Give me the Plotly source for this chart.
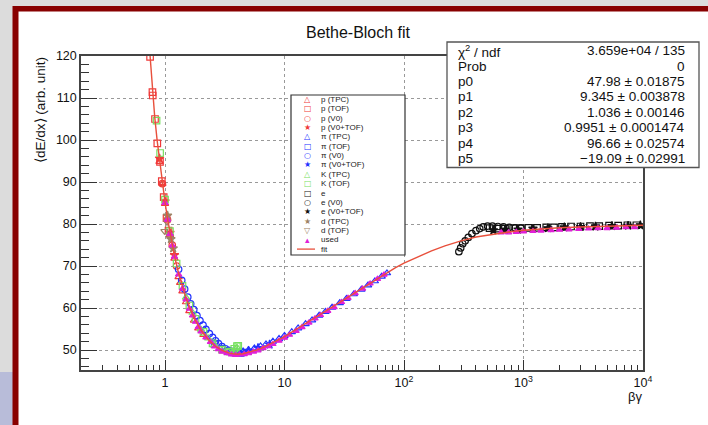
import plotly.graph_objects as go

# ---------------------------------------------------------------- data
# Bethe-Bloch fit curve, sampled along beta*gamma
fit_bg = [0.75, 0.78, 0.82, 0.86, 0.90, 0.95, 1.0, 1.05, 1.1, 1.2, 1.3, 1.4, 1.5, 1.6,
          1.8, 2.0, 2.3, 2.6, 3.0, 3.5, 4.0, 4.5, 5.0, 6.0, 7.0, 8.0, 10, 13, 16, 20,
          25, 30, 40, 50, 60, 70, 85, 100, 130, 170, 220, 300, 400, 550, 750, 1000,
          1500, 2000, 3000, 5000, 10000]
fit_val = [120.0, 112.5, 105.5, 99.8, 95.0, 89.8, 85.2, 81.2, 77.8, 72.4, 68.2, 64.9,
           62.3, 60.2, 57.0, 54.7, 52.5, 51.0, 49.9, 49.2, 49.0, 49.1, 49.4, 50.1,
           50.9, 51.7, 53.2, 55.2, 56.8, 58.5, 60.3, 61.7, 63.9, 65.6, 67.0, 68.2,
           69.6, 70.7, 72.2, 73.6, 74.8, 76.0, 76.9, 77.6, 78.1, 78.5, 78.9, 79.1,
           79.3, 79.5, 79.7]

# protons
p_tpc_bg = [0.9, 0.95, 1.0, 1.1, 1.2, 1.3, 1.34, 1.4, 1.5, 1.6, 1.75, 1.9, 2.1]
p_tpc_val = [94.8, 89.6, 84.8, 77.3, 71.8, 67.4, 66.0, 64.0, 61.4, 59.3, 57.0, 55.2, 53.6]
p_tof_bg = [0.75, 0.785, 0.79, 0.825, 0.862, 0.908, 0.94, 0.975, 1.03, 1.07]
p_tof_val = [119.8, 111.4, 110.6, 105.0, 99.2, 94.8, 90.2, 86.4, 81.4, 78.4]
p_v0_bg = [0.95, 1.05, 1.15, 1.25]
p_v0_val = [89.6, 81.0, 75.0, 70.0]
p_v0tof_bg = [0.9, 1.0, 1.1, 1.2]
p_v0tof_val = [95.6, 85.4, 77.9, 72.6]

# pions
pi_tpc_bg = [3.6, 4.0, 4.5, 5, 5.6, 6.3, 7, 8, 9, 10, 11.5, 13, 15, 17, 19.5, 22, 25,
             29, 33, 38, 44, 50, 57, 65, 72]
pi_tpc_val = [49.4, 49.5, 49.7, 50.0, 50.4, 50.9, 51.4, 52.0, 52.7, 53.4, 54.3, 55.2,
              56.2, 57.1, 58.2, 59.1, 60.1, 61.2, 62.2, 63.3, 64.4, 65.4, 66.4, 67.5, 68.3]
pi_tof_bg = [2.6, 3.0, 3.4, 3.8, 4.3]
pi_tof_val = [51.4, 50.3, 49.7, 49.4, 49.3]
pi_v0_bg = [1.3, 1.38, 1.46, 1.55, 1.64, 1.74, 1.85, 1.96, 2.08, 2.2, 2.35, 2.5, 2.65,
            2.8, 3.0, 3.2, 3.4, 3.65, 3.9]
pi_v0_val = [69.2, 66.6, 64.5, 62.6, 61.0, 59.6, 58.2, 57.0, 55.9, 54.9, 53.9, 53.0,
             52.2, 51.5, 50.8, 50.3, 49.9, 49.6, 49.4]
pi_v0tof_bg = [4.2, 5.0, 6.0, 7.5]
pi_v0tof_val = [49.4, 49.8, 50.5, 51.3]

# kaons
k_tpc_bg = [1.5, 1.7, 2.0, 2.3, 2.6, 3.0, 3.4, 3.7, 3.9, 4.0]
k_tpc_val = [62.5, 58.9, 54.9, 52.8, 51.2, 50.0, 49.5, 49.6, 50.2, 50.6]
k_tof_bg = [0.85, 0.91, 1.0, 1.1, 1.25, 1.4, 1.6, 1.8, 2.1, 2.5, 3.0, 3.5, 3.8, 4.0, 4.1]
k_tof_val = [104.6, 96.9, 85.8, 78.3, 70.6, 65.3, 60.6, 57.4, 54.3, 51.6, 50.1, 49.6,
             50.3, 50.9, 51.0]

# electrons
e_bg = [520, 600, 700, 820, 950, 1100, 1300, 1550, 1800, 2100, 2500, 3000, 3600, 4300,
        5200, 6200, 7400, 8800]
e_val = [79.0, 78.9, 78.9, 79.0, 79.0, 79.1, 79.1, 79.2, 79.2, 79.3, 79.4, 79.4, 79.5,
         79.5, 79.6, 79.6, 79.7, 79.7]
e_v0_bg = [288, 298, 310, 325, 345, 370, 400, 430, 460, 500, 550, 610, 680, 760, 850, 950]
e_v0_val = [73.4, 74.3, 75.3, 76.0, 76.8, 77.7, 78.4, 78.9, 79.3, 79.5, 79.5, 79.4,
            79.3, 79.2, 79.1, 79.0]
e_v0tof_bg = [560, 700, 900, 1200, 1600, 2200, 3000, 4000, 5500, 7500, 9500]
e_v0tof_val = [78.5, 78.6, 78.7, 78.9, 79.0, 79.2, 79.3, 79.4, 79.5, 79.6, 79.7]

# deuterons
d_tpc_bg = [1.05, 1.12, 1.17]
d_tpc_val = [82.0, 76.4, 74.2]
d_tof_bg = [0.99, 1.04, 1.1]
d_tof_val = [78.3, 80.5, 77.0]

# points entering the fit
used_bg = [1.0, 1.05, 1.1, 1.15, 1.2, 1.3, 1.4, 1.5, 1.6, 1.7, 1.8, 1.9, 2.0, 2.2, 2.4,
           2.6, 2.8, 3.0, 3.3, 3.6, 3.9, 4.2, 4.6, 5.0, 5.5, 6.0, 6.6, 7.3, 8.0, 9.0,
           10, 11, 12.5, 14, 16, 18, 20, 23, 26, 30, 34, 39, 45, 52, 60, 68,
           650, 750, 870, 1000, 1200, 1400, 1700, 2000, 2400, 2900, 3500, 4200, 5000,
           6000, 7200, 8500]
used_val = [85.0, 81.0, 77.6, 74.9, 72.2, 68.0, 64.6, 62.0, 59.8, 58.2, 56.7, 55.5,
            54.4, 53.0, 51.9, 50.8, 50.2, 49.6, 49.2, 48.9, 48.8, 48.9, 49.0, 49.2,
            49.6, 49.9, 50.4, 50.9, 51.4, 52.2, 52.9, 53.6, 54.5, 55.4, 56.5, 57.5,
            58.3, 59.3, 60.2, 61.4, 62.4, 63.5, 64.6, 65.8, 66.9, 67.9,
            78.0, 78.0, 78.1, 78.2, 78.3, 78.4, 78.5, 78.6, 78.7, 78.8, 78.9, 79.0,
            79.0, 79.1, 79.2, 79.2]

# fit statistics
stat_labels = ["χ<sup>2</sup> / ndf", "Prob", "p0", "p1", "p2", "p3", "p4", "p5"]
stat_values = ["3.659e+04 / 135", "0", "47.98 ± 0.01875", "9.345 ± 0.003878",
               "1.036 ± 0.00146", "0.9951 ± 0.0001474", "96.66 ± 0.02574",
               "\u221219.09 ± 0.02991"]

x_tickvals = [1, 10, 100, 1000, 10000]
x_ticktext = ["1", "10", "10<sup>2</sup>", "10<sup>3</sup>", "10<sup>4</sup>"]
y_tickvals = [50, 60, 70, 80, 90, 100, 110, 120]

# ---------------------------------------------------------------- styles
RED, BLUE, GREEN, BLACK = "#f03a3a", "#2233ff", "#77e060", "#111111"
BROWN, MAGENTA, FITC = "#9e8466", "#e020d8", "#e8503c"

series = [
    ("p (TPC)", p_tpc_bg, p_tpc_val, "triangle-up-open", RED, "△"),
    ("p (TOF)", p_tof_bg, p_tof_val, "square-open", RED, "□"),
    ("p (V0)", p_v0_bg, p_v0_val, "circle-open", RED, "○"),
    ("p (V0+TOF)", p_v0tof_bg, p_v0tof_val, "star", RED, "★"),
    ("π (TPC)", pi_tpc_bg, pi_tpc_val, "triangle-up-open", BLUE, "△"),
    ("π (TOF)", pi_tof_bg, pi_tof_val, "square-open", BLUE, "□"),
    ("π (V0)", pi_v0_bg, pi_v0_val, "circle-open", BLUE, "○"),
    ("π (V0+TOF)", pi_v0tof_bg, pi_v0tof_val, "star", BLUE, "★"),
    ("K (TPC)", k_tpc_bg, k_tpc_val, "triangle-up-open", GREEN, "△"),
    ("K (TOF)", k_tof_bg, k_tof_val, "square-open", GREEN, "□"),
    ("e", e_bg, e_val, "square-open", BLACK, "□"),
    ("e (V0)", e_v0_bg, e_v0_val, "circle-open", BLACK, "○"),
    ("e (V0+TOF)", e_v0tof_bg, e_v0tof_val, "star", BLACK, "★"),
    ("d (TPC)", d_tpc_bg, d_tpc_val, "star", BROWN, "★"),
    ("d (TOF)", d_tof_bg, d_tof_val, "triangle-down-open", BROWN, "▽"),
    ("used", used_bg, used_val, "triangle-up", MAGENTA, "▴"),
]

W, H = 708, 425
ML, MR, MT, MB = 81, 65, 56, 55
PL, PR, PT, PB = ML, W - MR, MT, H - MB
FONT = "Liberation Sans, Arial, Helvetica, sans-serif"


def fx(px):
    """pixel column -> paper x"""
    return (px - PL) / (PR - PL)


def fy(py):
    """pixel row -> paper y"""
    return (PB - py) / (PB - PT)


fig = go.Figure()

for name, xs, ys, sym, col, _ in series:
    small = sym == "triangle-up"
    fig.add_trace(go.Scatter(
        x=xs, y=ys, mode="markers", name=name, showlegend=False,
        marker=dict(symbol=sym, size=5.5 if small else 6.5, color=col,
                    line=dict(width=1.2, color=col)),
    ))

fig.add_trace(go.Scatter(x=fit_bg, y=fit_val, mode="lines", name="fit",
                         showlegend=False, line=dict(color=FITC, width=1.4)))

shapes = []
annotations = []

# canvas decoration: grey margin, dark red frame, lavender corner
shapes += [
    dict(type="rect", xref="paper", yref="paper", x0=fx(0), x1=fx(W), y0=fy(0), y1=fy(7),
         fillcolor="#dcdcdc", line_width=0, layer="below"),
    dict(type="rect", xref="paper", yref="paper", x0=fx(0), x1=fx(13), y0=fy(0), y1=fy(372),
         fillcolor="#dcdcdc", line_width=0, layer="below"),
    dict(type="rect", xref="paper", yref="paper", x0=fx(0), x1=fx(13), y0=fy(372), y1=fy(H),
         fillcolor="#b8bcd9", line_width=0, layer="below"),
    dict(type="rect", xref="paper", yref="paper", x0=fx(13), x1=fx(W), y0=fy(6), y1=fy(11.5),
         fillcolor="#880000", line_width=0, layer="below"),
    dict(type="rect", xref="paper", yref="paper", x0=fx(12.5), x1=fx(18.5), y0=fy(6), y1=fy(H),
         fillcolor="#880000", line_width=0, layer="below"),
]

# legend box
LX0, LX1, LY0, LY1 = 291, 405, 95, 255
shapes.append(dict(type="rect", xref="paper", yref="paper", x0=fx(LX0), x1=fx(LX1),
                   y0=fy(LY0), y1=fy(LY1), fillcolor="white",
                   line=dict(color="#333333", width=1.2), layer="above"))
row0, drow = 99.5, 9.35
legend_items = [(s[0], s[5], s[4]) for s in series]
for i, (name, glyph, col) in enumerate(legend_items):
    yy = fy(row0 + drow * i)
    annotations.append(dict(xref="paper", yref="paper", x=fx(307.5), y=yy, text=glyph,
                            showarrow=False, xanchor="center", yanchor="middle",
                            font=dict(family="DejaVu Sans", size=8 if glyph != "▴" else 9,
                                      color=col)))
    annotations.append(dict(xref="paper", yref="paper", x=fx(319), y=yy, text=name,
                            showarrow=False, xanchor="left", yanchor="middle",
                            font=dict(family=FONT, size=8, color="#222222")))
yfit = row0 + drow * len(legend_items)
shapes.append(dict(type="line", xref="paper", yref="paper", x0=fx(297), x1=fx(315),
                   y0=fy(yfit), y1=fy(yfit), line=dict(color=FITC, width=1.3),
                   layer="above"))
annotations.append(dict(xref="paper", yref="paper", x=fx(319), y=fy(yfit), text="fit",
                        showarrow=False, xanchor="left", yanchor="middle",
                        font=dict(family=FONT, size=8, color="#222222")))

# statistics box
SX0, SX1, SY0, SY1 = 447, 699, 42, 167.5
shapes.append(dict(type="rect", xref="paper", yref="paper", x0=fx(SX0), x1=fx(SX1),
                   y0=fy(SY0), y1=fy(SY1), fillcolor="white",
                   line=dict(color="#555555", width=1.3), layer="above"))
srow0, sdrow = 50.7, 15.4
for i, (lab, val) in enumerate(zip(stat_labels, stat_values)):
    yy = fy(srow0 + sdrow * i)
    annotations.append(dict(xref="paper", yref="paper", x=fx(456), y=yy, text=lab,
                            showarrow=False, xanchor="left", yanchor="middle",
                            font=dict(family=FONT, size=13.5, color="#111111")))
    annotations.append(dict(xref="paper", yref="paper", x=fx(687), y=yy, text=val,
                            showarrow=False, xanchor="right", yanchor="middle",
                            font=dict(family=FONT, size=13.5, color="#111111")))

# titles
annotations.append(dict(xref="paper", yref="paper", x=fx(358), y=fy(32),
                        text="Bethe-Bloch fit", showarrow=False, xanchor="center",
                        yanchor="middle", font=dict(family=FONT, size=16, color="#111111")))
annotations.append(dict(xref="paper", yref="paper", x=fx(41), y=fy(110),
                        text="⟨dE/dx⟩ (arb. unit)", textangle=-90, showarrow=False,
                        xanchor="center", yanchor="middle",
                        font=dict(family=FONT, size=13.5, color="#111111")))
annotations.append(dict(xref="paper", yref="paper", x=fx(635), y=fy(396), text="βγ",
                        showarrow=False, xanchor="center", yanchor="middle",
                        font=dict(family=FONT, size=13, color="#111111")))

axis_common = dict(showline=True, linecolor="#444444", linewidth=1.5, mirror=True,
                   ticks="inside", tickcolor="#333333", tickwidth=1,
                   showgrid=True, gridcolor="#999999", griddash="dot", gridwidth=1,
                   zeroline=False, tickfont=dict(family=FONT, size=12.5, color="#111111"))

fig.update_xaxes(type="log", range=[-0.703, 4.0], tickmode="array",
                 tickvals=x_tickvals, ticktext=x_ticktext, ticklen=10,
                 minor=dict(dtick="D1", ticks="inside", ticklen=5, tickcolor="#333333",
                            showgrid=False),
                 **axis_common)
fig.update_yaxes(range=[120 - (PB - PT) / 4.2, 120], tickmode="array",
                 tickvals=y_tickvals, ticklen=16,
                 minor=dict(dtick=2, ticks="inside", ticklen=8, tickcolor="#333333",
                            showgrid=False),
                 **axis_common)

fig.update_layout(
    width=W, height=H,
    margin=dict(l=ML, r=MR, t=MT, b=MB, pad=0),
    paper_bgcolor="white", plot_bgcolor="white",
    showlegend=False,
    shapes=shapes, annotations=annotations,
)

fig.write_html("out.html")
